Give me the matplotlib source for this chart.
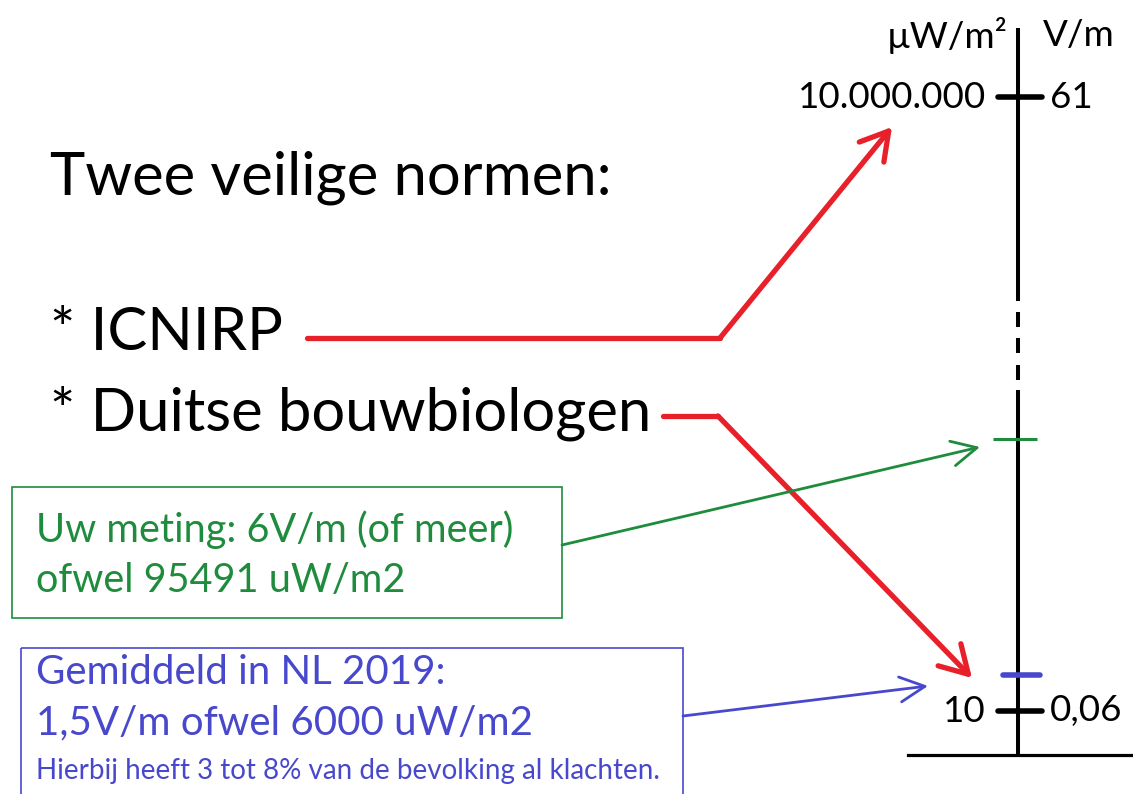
import matplotlib.pyplot as plt

plt.rcParams['font.family'] = ['Lato', 'DejaVu Sans']

# scale labels (power density left, field strength right)
unit_labels = ['µW/m²', 'V/m']
pw_labels = ['10.000.000', '10']
vm_labels = ['61', '0,06']

title = 'Twee veilige normen:'
norms = ['* ICNIRP', '* Duitse bouwbiologen']

meting_lines = ['Uw meting: 6V/m (of meer)', 'ofwel 95491 uW/m2']
nl_lines = ['Gemiddeld in NL 2019:', '1,5V/m ofwel 6000 uW/m2']
nl_note = 'Hierbij heeft 3 tot 8% van de bevolking al klachten.'

RED = '#e8202a'
GREEN = '#1e8c3c'
BLUE = '#4848cc'

fig = plt.figure(figsize=(11.33, 7.94), dpi=100)
ax = fig.add_axes([0, 0, 1, 1])
ax.set_xlim(0, 1133)
ax.set_ylim(794, 0)
ax.axis('off')

# vertical scale with broken (dashed) part
ax_x = 1018
ax.plot([ax_x, ax_x], [28, 301], color='black', lw=2.9, solid_capstyle='butt')
for y0, y1 in [(312, 327), (338, 353), (365, 380)]:
    ax.plot([ax_x, ax_x], [y0, y1], color='black', lw=2.9, solid_capstyle='butt')
ax.plot([ax_x, ax_x], [390, 755], color='black', lw=2.9, solid_capstyle='butt')
ax.plot([908, 1133], [755, 755], color='black', lw=2.3)

# ticks
tick_y = [97, 711]
for y, pw, vm in zip(tick_y, pw_labels, vm_labels):
    ax.plot([998, 1042], [y, y], color='black', lw=4, solid_capstyle='round')
    ax.text(986, y, pw, ha='right', va='center', fontsize=26.5)
    ax.text(1050, y, vm, ha='left', va='center', fontsize=26.5)
ax.text(1008, 35, unit_labels[0], ha='right', va='center', fontsize=26.5)
ax.text(1043, 35, unit_labels[1], ha='left', va='center', fontsize=26.5)

# measurement ticks
ax.plot([993, 1037], [439, 439], color=GREEN, lw=2.2, solid_capstyle='butt')
ax.plot([1003, 1040], [675, 675], color=BLUE, lw=4, solid_capstyle='round')

# headline texts
ax.text(50, 178, title, ha='left', va='center', fontsize=43)
ax.text(50, 333, norms[0], ha='left', va='center', fontsize=43)
ax.text(50, 413, norms[1], ha='left', va='center', fontsize=43)

# red arrows
ax.plot([307, 720], [338, 338], color=RED, lw=3.8, solid_capstyle='round')
ax.annotate('', xy=(892, 127), xytext=(720, 338),
            arrowprops=dict(arrowstyle='->,head_length=0.65,head_width=0.38',
                            color=RED, lw=3.8, mutation_scale=30,
                            shrinkA=0, shrinkB=0, capstyle='round'))
ax.plot([663, 718], [416, 416], color=RED, lw=3.8, solid_capstyle='round')
ax.annotate('', xy=(972, 678), xytext=(718, 416),
            arrowprops=dict(arrowstyle='->,head_length=0.65,head_width=0.38',
                            color=RED, lw=3.8, mutation_scale=30,
                            shrinkA=0, shrinkB=0, capstyle='round'))

# green box
ax.add_patch(plt.Rectangle((12, 487), 550, 131, fill=False, ec=GREEN, lw=1.2))
ax.text(36, 530, meting_lines[0], ha='left', va='center', fontsize=28.5, color=GREEN)
ax.text(36, 581, meting_lines[1], ha='left', va='center', fontsize=28.5, color=GREEN)
ax.annotate('', xy=(980, 447), xytext=(562, 545),
            arrowprops=dict(arrowstyle='->,head_length=0.6,head_width=0.3',
                            color=GREEN, lw=2, mutation_scale=30,
                            shrinkA=0, shrinkB=0))

# blue box
ax.add_patch(plt.Rectangle((21, 648), 662, 160, fill=False, ec=BLUE, lw=1.2))
ax.text(36, 672, nl_lines[0], ha='left', va='center', fontsize=29, color=BLUE)
ax.text(36, 723, nl_lines[1], ha='left', va='center', fontsize=29, color=BLUE)
ax.text(36, 771, nl_note, ha='left', va='center', fontsize=20, color=BLUE)
ax.annotate('', xy=(928, 686), xytext=(683, 716),
            arrowprops=dict(arrowstyle='->,head_length=0.6,head_width=0.3',
                            color=BLUE, lw=2, mutation_scale=30,
                            shrinkA=0, shrinkB=0))

fig.savefig('out.png', dpi=100)
